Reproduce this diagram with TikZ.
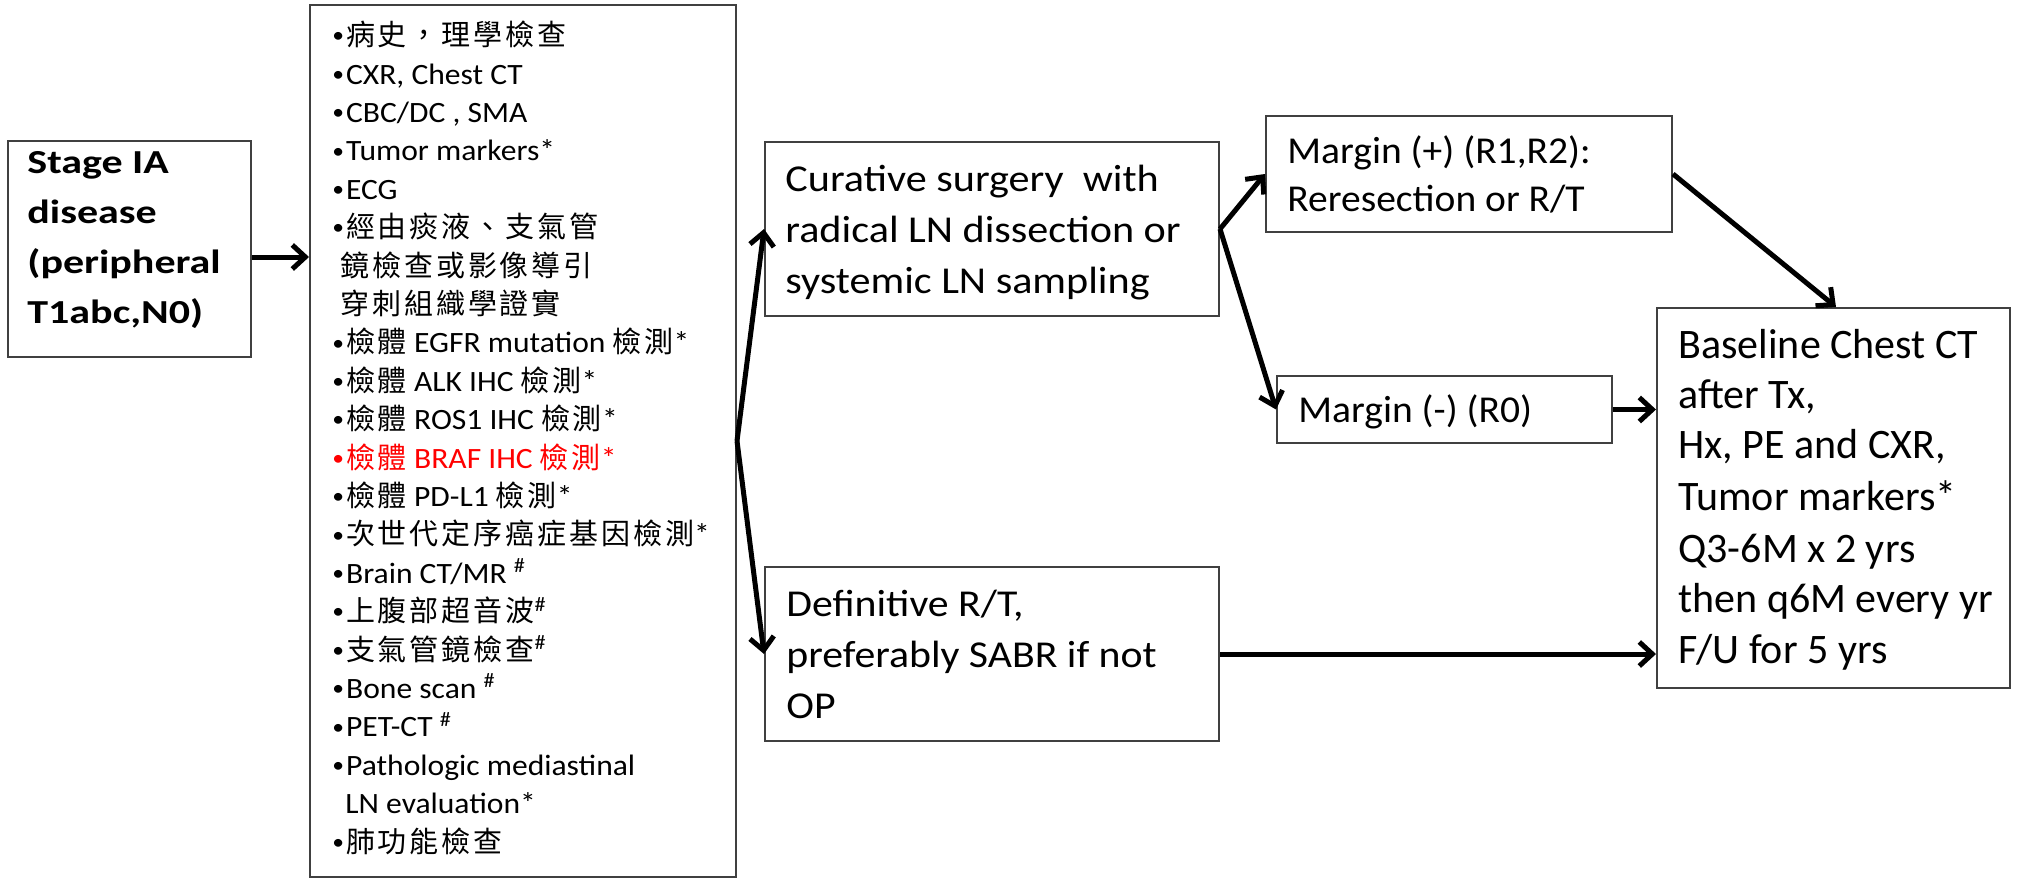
\documentclass[tikz,border=0pt]{standalone}
\usepackage{fontspec}
\setmainfont{Carlito}
\newfontfamily\cjk[LetterSpace=10]{Noto Sans CJK TC}
\newfontfamily\fStage[FakeStretch=1.25]{Carlito}
\newfontfamily\fList[FakeStretch=1.07]{Carlito}
\newfontfamily\fCur[FakeStretch=1.11]{Carlito}
\newfontfamily\fDef[FakeStretch=1.1]{Carlito}
\newfontfamily\fMar[FakeStretch=1.04]{Carlito}
\usetikzlibrary{arrows.meta,fit,calc}
\definecolor{boxgray}{HTML}{404040}
\definecolor{alertred}{HTML}{FF0000}
\newcommand\cj[1]{{\cjk\fontsize{14.5}{18}\selectfont#1}}
\newcommand\sharpmark{\textsuperscript{\#}}
\newcommand\bul{{\fontsize{11}{10}\selectfont\raisebox{1.4pt}{•}}\kern1pt}
\newcommand\listline[3]{\node[listtxt] (L#1) at (#2,{45.6+(#1-1)*38.4}) {#3};}
\begin{document}
\begin{tikzpicture}[x=0.5pt,y=-0.5pt,
  box/.style={draw=boxgray, line width=1pt, inner sep=0pt},
  txt/.style={anchor=base west, inner sep=0pt},
  listtxt/.style={txt, font=\fList\fontsize{14.75}{18}\selectfont},
  stagetxt/.style={txt, font=\fStage\bfseries\fontsize{16.8}{20}\selectfont},
  curtxt/.style={txt, font=\fCur\fontsize{19}{22}\selectfont},
  deftxt/.style={txt, font=\fDef\fontsize{19}{22}\selectfont},
  martxt/.style={txt, font=\fMar\fontsize{19}{22}\selectfont},
  basetxt/.style={txt, font=\fontsize{21}{24}\selectfont},
  arr/.style={line width=2.5pt, -{Straight Barb[length=6.5pt,width=12pt]}}]
\useasboundingbox (0,0) rectangle (2017,878);

% boxes
\node[box, fit={(8,141)(251,357)}] (S) {};
\node[box, fit={(310,5)(736,877)}] (L) {};
\node[box, fit={(765,142)(1219,316)}] (C) {};
\node[box, fit={(765,567)(1219,741)}] (D) {};
\node[box, fit={(1266,116)(1672,232)}] (MP) {};
\node[box, fit={(1277,376)(1612,443)}] (MN) {};
\node[box, fit={(1657,308)(2010,688)}] (B) {};

% stage text
\node[stagetxt] (S1) at (27,173) {Stage IA};
\node[stagetxt] (S2) at (27,223) {disease};
\node[stagetxt] (S3) at (27,273) {(peripheral};
\node[stagetxt] (S4) at (27,323) {T1abc,N0)};

% list
\listline{1}{332}{\bul\cj{病史，理學檢查}}
\listline{2}{332}{\bul CXR, Chest CT}
\listline{3}{332}{\bul CBC/DC , SMA}
\listline{4}{332}{\bul Tumor markers*}
\listline{5}{332}{\bul ECG}
\listline{6}{332}{\bul\cj{經由痰液、支氣管}}
\listline{7}{340}{\cj{鏡檢查或影像導引}}
\listline{8}{340}{\cj{穿刺組織學證實}}
\listline{9}{332}{\bul\cj{檢體} EGFR mutation \cj{檢測}*}
\listline{10}{332}{\bul\cj{檢體} ALK IHC \cj{檢測}*}
\listline{11}{332}{\bul\cj{檢體} ROS1 IHC \cj{檢測}*}
\listline{12}{332}{\color{alertred}\bul\cj{檢體} BRAF IHC \cj{檢測}*}
\listline{13}{332}{\bul\cj{檢體} PD-L1 \cj{檢測}*}
\listline{14}{332}{\bul\cj{次世代定序癌症基因檢測}*}
\listline{15}{332}{\bul Brain CT/MR \sharpmark}
\listline{16}{332}{\bul\cj{上腹部超音波}\sharpmark}
\listline{17}{332}{\bul\cj{支氣管鏡檢查}\sharpmark}
\listline{18}{332}{\bul Bone scan \sharpmark}
\listline{19}{332}{\bul PET-CT \sharpmark}
\listline{20}{332}{\bul Pathologic mediastinal}
\listline{21}{345}{LN evaluation*}
\listline{22}{332}{\bul\cj{肺功能檢查}}

% curative
\node[curtxt] (C1) at (785,191) {Curative surgery \ with};
\node[curtxt] (C2) at (785,242) {radical LN dissection or};
\node[curtxt] (C3) at (785,293) {systemic LN sampling};

% definitive
\node[deftxt] (D1) at (786,616) {Definitive R/T,};
\node[deftxt] (D2) at (786,667) {preferably SABR if not};
\node[deftxt] (D3) at (786,718) {OP};

% margins
\node[martxt] (MP1) at (1287,163) {Margin (+) (R1,R2):};
\node[martxt] (MP2) at (1287,211) {Reresection or R/T};
\node[martxt] (MN1) at (1298,422) {Margin (-) (R0)};

% baseline
\node[basetxt] (B1) at (1678,358) {Baseline Chest CT};
\node[basetxt] (B2) at (1678,408) {after Tx,};
\node[basetxt] (B3) at (1678,458) {Hx, PE and CXR,};
\node[basetxt] (B4) at (1678,510) {Tumor markers*};
\node[basetxt] (B5) at (1678,562) {Q3-6M x 2 yrs};
\node[basetxt] (B6) at (1678,612) {then q6M every yr};
\node[basetxt] (B7) at (1678,663) {F/U for 5 yrs};

% connectors
\draw[arr] ([yshift=-4pt]S.east) -- ([yshift=-4pt]S.east -| L.west);
\draw[arr] (L.east) -- (C.west);
\draw[arr] (L.east) -- (D.west);
\draw[arr] (C.east) -- (MP.west);
\draw[arr] (C.east) -- (MN.west);
\draw[arr] (MP.east) -- ($(B.north west)+(180,0)$);
\draw[arr] (MN.east) -- (MN.east -| B.west);
\draw[arr] (D.east) -- (D.east -| B.west);
\end{tikzpicture}
\end{document}
